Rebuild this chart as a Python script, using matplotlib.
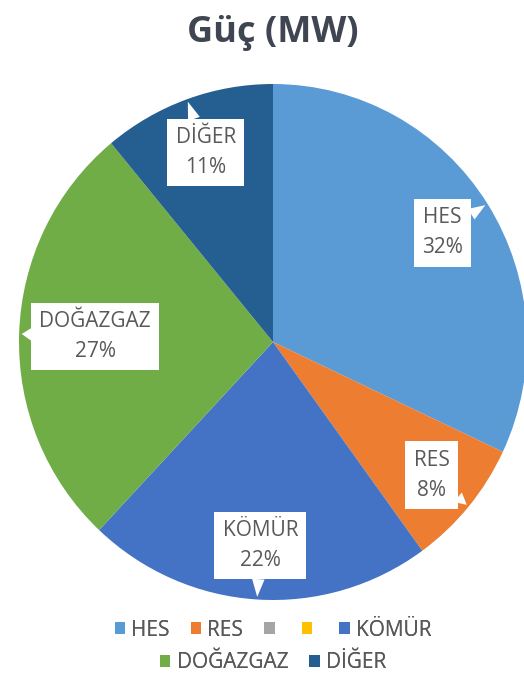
import numpy as np
import matplotlib
matplotlib.use('Agg')
import matplotlib.pyplot as plt

plt.rcParams['font.family'] = ['Open Sans', 'DejaVu Sans']

# kaynak bazinda kurulu guc payi (%)
sources = ['HES', 'RES', '', '', 'KÖMÜR', 'DOĞAZGAZ', 'DİĞER']
shares = [32, 8, 0, 0, 22, 27, 11]
colors = ['#5B9BD5', '#ED7D31', '#A5A5A5', '#FFC000', '#4472C4', '#70AD47', '#255E91']
# etiket kutusunun merkeze uzakligi (yaricap orani)
label_dist = [0.79, 0.81, 0, 0, 0.79, 0.70, 0.78]

W, H = 524, 679
fig = plt.figure(figsize=(W / 100, H / 100), dpi=100)

# pasta merkezi ve yaricaplari (piksel)
cx, cy, rx, ry = 273, 342, 254, 258
ax = fig.add_axes([(cx - rx) / W, 1 - (cy + ry) / H, 2 * rx / W, 2 * ry / H])
wedges, _ = ax.pie(shares, colors=colors, startangle=90, counterclock=False,
                   radius=1, wedgeprops=dict(linewidth=0))
ax.set_xlim(-1, 1)
ax.set_ylim(-1, 1)
ax.set_aspect('auto')
ax.axis('off')

for w, name, val, d in zip(wedges, sources, shares, label_dist):
    if val == 0:
        continue
    mid = np.deg2rad((w.theta1 + w.theta2) / 2)
    tip = (0.99 * np.cos(mid), 0.99 * np.sin(mid))
    box = (d * np.cos(mid), d * np.sin(mid))
    ax.annotate(f'{name}\n{val}%', xy=tip, xytext=box, ha='center', va='center',
                fontsize=15, color='#595959', linespacing=1.55,
                bbox=dict(boxstyle='square,pad=0.4', fc='white', ec='none'),
                arrowprops=dict(arrowstyle='wedge,tail_width=0.6,shrink_factor=0.5',
                                fc='white', ec='none', shrinkA=0, shrinkB=0))

fig.text(cx / W, 1 - 33 / H, 'Güç (MW)', ha='center', va='center',
         fontsize=26, fontweight='bold', color='#3f4651')

# iki satirli gosterge
rows = [(wedges[:5], sources[:5], 630), (wedges[5:], sources[5:], 663)]
for handles, labels, y in rows:
    leg = fig.legend(handles, labels, loc='center', bbox_to_anchor=(cx / W, 1 - y / H),
                     ncol=len(handles), frameon=False, fontsize=15,
                     handlelength=0.5, handleheight=0.5, handletextpad=0.3,
                     columnspacing=1.0, labelcolor='#595959',
                     borderpad=0.2)
    fig.add_artist(leg)

fig.savefig('out.png', dpi=100)
